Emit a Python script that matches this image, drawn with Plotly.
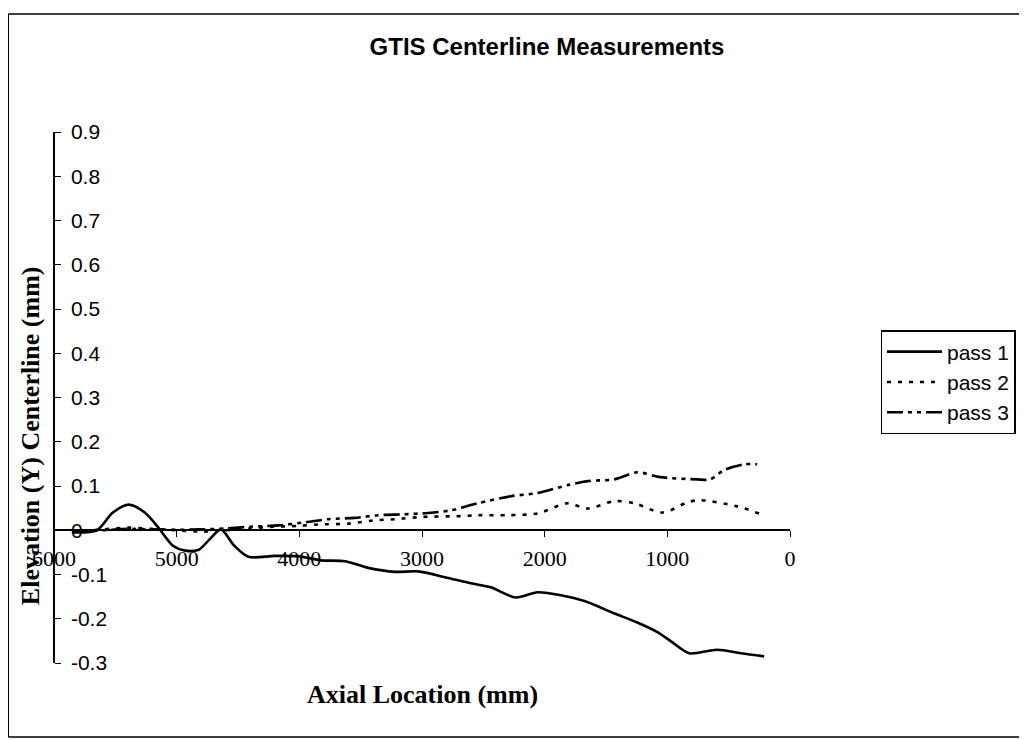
import plotly.graph_objects as go

# ---------------- data ----------------
pass1_x = [5850, 5650, 5520, 5390, 5260, 5146, 5030, 4930, 4820, 4730, 4640, 4530, 4415, 4200,
           4000, 3821, 3626, 3439, 3220, 3033, 2813, 2602, 2439, 2236, 2057, 1850, 1675, 1431,
           1250, 1081, 950, 821, 593, 400, 211]
pass1_y = [-0.005, 0.000, 0.040, 0.058, 0.040, 0.005, -0.035, -0.046, -0.044, -0.020, 0.002, -0.035,
           -0.060, -0.058, -0.059, -0.068, -0.070, -0.085, -0.094, -0.093, -0.106, -0.120, -0.129,
           -0.152, -0.140, -0.148, -0.160, -0.188, -0.208, -0.230, -0.255, -0.278, -0.270, -0.278,
           -0.285]

pass2_x = [5850, 5600, 5400, 5200, 5000, 4800, 4600, 4400, 4200, 4000, 3846, 3600, 3400, 3220,
           3000, 2683, 2545, 2300, 2057, 1813, 1650, 1431, 1268, 1040, 837, 732, 431, 244]
pass2_y = [-0.003, 0.002, 0.006, 0.003, 0.000, -0.003, 0.000, 0.004, 0.008, 0.010, 0.013, 0.015,
           0.022, 0.025, 0.030, 0.032, 0.034, 0.034, 0.038, 0.061, 0.049, 0.066, 0.061, 0.040,
           0.063, 0.068, 0.054, 0.037]

pass3_x = [5850, 5600, 5400, 5200, 5000, 4800, 4600, 4400, 4171, 3950, 3764, 3550, 3358, 3150,
           2951, 2764, 2545, 2276, 2057, 1813, 1650, 1431, 1244, 1057, 756, 650, 537, 374, 268]
pass3_y = [-0.003, 0.000, 0.003, 0.002, 0.001, 0.002, 0.004, 0.008, 0.011, 0.018, 0.025, 0.028,
           0.034, 0.036, 0.039, 0.045, 0.061, 0.077, 0.084, 0.102, 0.111, 0.115, 0.131, 0.120,
           0.115, 0.115, 0.136, 0.149, 0.149]

series_names = ["pass 1", "pass 2", "pass 3"]

x_tick_vals = [6000, 5000, 4000, 3000, 2000, 1000, 0]
x_tick_text = ["6000", "5000", "4000", "3000", "2000", "1000", "0"]
y_tick_vals = [0.9, 0.8, 0.7, 0.6, 0.5, 0.4, 0.3, 0.2, 0.1, 0.0, -0.1, -0.2, -0.3]
y_tick_text = ["0.9", "0.8", "0.7", "0.6", "0.5", "0.4", "0.3", "0.2", "0.1", "0", "-0.1", "-0.2", "-0.3"]

title_text = "GTIS Centerline Measurements"
x_title = "Axial Location (mm)"
y_title = "Elevation (Y) Centerline (mm)"

# ---------------- layout geometry ----------------
# the page body adds an 8px margin, so the figure is drawn shifted by OFF
OFF = 8
W, H = 1027 - OFF, 740 - OFF
L = 54 - OFF
T = 132 - OFF
R = W - (794 - OFF)
B = H - (663 - OFF)
PW, PH = W - L - R, H - T - B
Y_MIN, Y_MAX = -0.3, 0.9


def px_x(px):
    return (px - OFF - L) / PW


def px_y(py):
    return (H - B - (py - OFF)) / PH


SANS = "Arial, 'Liberation Sans', sans-serif"
SERIF = "'Times New Roman', 'Liberation Serif', serif"

fig = go.Figure()
fig.add_trace(go.Scatter(x=pass1_x, y=pass1_y, name=series_names[0], mode="lines",
                         line=dict(color="black", width=2.6, shape="spline", smoothing=0.8)))
fig.add_trace(go.Scatter(x=pass2_x, y=pass2_y, name=series_names[1], mode="lines",
                         line=dict(color="black", width=2.6, shape="spline", smoothing=0.8,
                                   dash="4px,7px")))
fig.add_trace(go.Scatter(x=pass3_x, y=pass3_y, name=series_names[2], mode="lines",
                         line=dict(color="black", width=2.6, shape="spline", smoothing=0.8,
                                   dash="16px,5px,4px,5px,4px,5px")))

zero_pos = (0 - Y_MIN) / (Y_MAX - Y_MIN)

fig.update_layout(
    width=W, height=H,
    margin=dict(l=L, r=R, t=T, b=B),
    paper_bgcolor="white", plot_bgcolor="white",
    title=dict(text="<b>" + title_text + "</b>", x=(547 - OFF) / W, xanchor="center",
               y=1 - (47 - OFF) / H, yanchor="middle", yref="container", xref="container",
               font=dict(family=SANS, size=24, color="black")),
    xaxis=dict(range=[6000, 0], tickvals=x_tick_vals, ticktext=x_tick_text,
               anchor="free", position=zero_pos, side="bottom",
               showline=True, linecolor="black", linewidth=1.5,
               ticks="outside", ticklen=6, tickwidth=1.2, tickcolor="black",
               ticklabelstandoff=3,
               showgrid=False, zeroline=False,
               tickfont=dict(family=SERIF, size=22, color="black")),
    yaxis=dict(range=[Y_MIN, Y_MAX], tickvals=y_tick_vals, ticktext=y_tick_text,
               anchor="free", position=0, side="right",
               showline=True, linecolor="black", linewidth=1.5,
               ticks="outside", ticklen=6, tickwidth=1.2, tickcolor="black",
               ticklabelstandoff=6,
               showgrid=False, zeroline=False,
               tickfont=dict(family=SANS, size=21, color="black")),
    legend=dict(x=px_x(885), y=px_y(330), xanchor="left", yanchor="top",
                bordercolor="black", borderwidth=1.5, bgcolor="white",
                font=dict(family=SANS, size=21, color="black"),
                tracegroupgap=0, itemwidth=55),
    showlegend=True,
)

fig.add_annotation(text="<b>" + x_title + "</b>", xref="paper", yref="paper",
                   x=px_x(424), y=px_y(694), xanchor="center", yanchor="middle", showarrow=False,
                   font=dict(family=SERIF, size=26, color="black"))
fig.add_annotation(text="<b>" + y_title + "</b>", xref="paper", yref="paper",
                   x=px_x(30), y=px_y(436), xanchor="center", yanchor="middle",
                   showarrow=False, textangle=-90,
                   font=dict(family=SERIF, size=26, color="black"))

# outer chart frame (top, left, bottom edges; right edge lies outside the picture)
frame_line = dict(color="black", width=1.5)
fig.add_shape(type="line", xref="paper", yref="paper", layer="below",
              x0=px_x(8), x1=px_x(1030), y0=px_y(14), y1=px_y(14), line=frame_line)
fig.add_shape(type="line", xref="paper", yref="paper", layer="below",
              x0=px_x(8), x1=px_x(8), y0=px_y(14), y1=px_y(737), line=frame_line)
fig.add_shape(type="line", xref="paper", yref="paper", layer="below",
              x0=px_x(8), x1=px_x(1030), y0=px_y(737), y1=px_y(737), line=frame_line)

fig.write_html(
    "out.html",
    post_script="document.documentElement.style.overflow='hidden';"
                "document.body.style.overflow='hidden';",
)
